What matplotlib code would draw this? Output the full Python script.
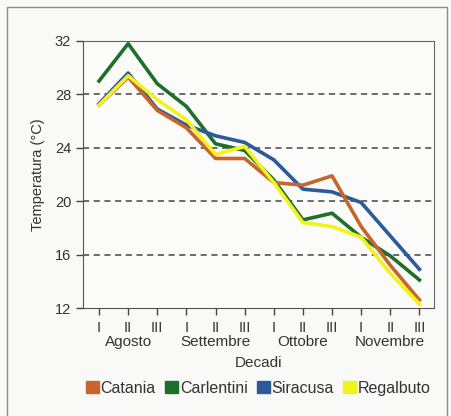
import numpy as np
import matplotlib.pyplot as plt
from matplotlib.patches import Rectangle

plt.rcParams['font.family'] = ['Liberation Sans', 'DejaVu Sans']

# dati: temperature medie per decade (agosto - novembre)
decadi = ['I', 'II', 'III'] * 4
mesi = ['Agosto', 'Settembre', 'Ottobre', 'Novembre']
catania = [27.2, 29.3, 26.8, 25.5, 23.2, 23.2, 21.4, 21.2, 21.9, 18.1, 15.2, 12.6]
carlentini = [29.0, 31.8, 28.8, 27.1, 24.3, 23.8, 21.6, 18.6, 19.1, 17.3, 15.9, 14.1]
siracusa = [27.3, 29.6, 26.9, 25.7, 24.9, 24.4, 23.1, 20.9, 20.7, 19.9, 17.4, 14.9]
regalbuto = [27.2, 29.4, 27.6, 26.1, 23.5, 24.1, 21.4, 18.4, 18.1, 17.3, 14.6, 12.3]

x = np.arange(len(decadi))

fig = plt.figure(figsize=(4.51, 4.16), dpi=100)
fig.patch.set_facecolor('#f9f9f7')
# cornice esterna
fig.patches.append(Rectangle((7/451, -0.05), 440/451, 1 - 7/416 + 0.05,
                             transform=fig.transFigure, fill=False,
                             edgecolor='#8a8a8a', lw=1.0))

ax = fig.add_axes([83/451, 1 - 308/416, 351/451, 267/416])
ax.set_facecolor('#fbfbfa')

lw = 2.6
ax.plot(x, carlentini, color='#1f6f2c', lw=lw, label='Carlentini', zorder=3)
ax.plot(x, siracusa, color='#2b5b98', lw=lw, label='Siracusa', zorder=3)
ax.plot(x, catania, color='#c8652c', lw=lw, label='Catania', zorder=3)
ax.plot(x, regalbuto, color='#f2f21e', lw=lw, label='Regalbuto', zorder=4)

ax.set_xlim(-0.55, 11.5)
ax.set_ylim(12, 32)
ax.set_yticks([12, 16, 20, 24, 28, 32])
ax.set_xticks(x)
ax.set_xticklabels(decadi, fontsize=10.5, color='#333333')
ax.tick_params(axis='both', direction='out', length=5, width=1, colors='#444444',
               labelsize=10.5, labelcolor='#333333')
ax.tick_params(axis='x', pad=4)

for v in [16, 20, 24, 28]:
    ax.axhline(v, color='#444444', lw=1.1, ls=(0, (4, 3)), zorder=1)

for s in ['left', 'bottom']:
    ax.spines[s].set_color('#555555')
for s in ['top', 'right']:
    ax.spines[s].set_color('#666666')

ax.set_ylabel('Temperatura (°C)', fontsize=10.5, color='#333333', labelpad=7)

for i, m in enumerate(mesi):
    ax.text(3 * i + 1, -0.127, m, transform=ax.get_xaxis_transform(),
            ha='center', va='center', fontsize=11, color='#333333')
ax.text(0.5, -0.205, 'Decadi', transform=ax.transAxes, ha='center', va='center',
        fontsize=11, color='#333333')

handles = [plt.Rectangle((0, 0), 1, 1, color=c) for c in
           ['#c8652c', '#1f6f2c', '#2b5b98', '#f2f21e']]
ax.legend(handles, ['Catania', 'Carlentini', 'Siracusa', 'Regalbuto'],
          loc='center', bbox_to_anchor=(0.5, -0.3), ncol=4, frameon=False,
          fontsize=11.5, handlelength=0.8, handleheight=0.8, handletextpad=0.1,
          columnspacing=0.6, labelcolor='#333333')

fig.savefig('out.png', dpi=100, facecolor=fig.get_facecolor())
